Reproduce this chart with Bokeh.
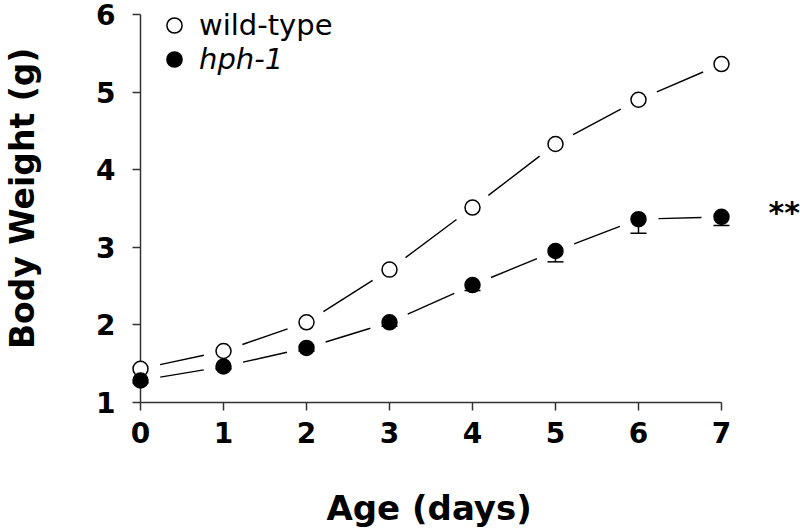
import math
from bokeh.plotting import figure
from bokeh.models import (Range1d, Whisker, TeeHead, Legend, LegendItem, Label,
                          ColumnDataSource, FixedTicker)
from bokeh.embed import file_html
from bokeh.resources import INLINE

# ---- data ----
days = [0, 1, 2, 3, 4, 5, 6, 7]
wild_type = [1.43, 1.66, 2.03, 2.71, 3.51, 4.33, 4.90, 5.36]
hph1 = [1.28, 1.46, 1.70, 2.03, 2.51, 2.95, 3.36, 3.39]
hph1_err = [0.03, 0.03, 0.04, 0.05, 0.07, 0.14, 0.18, 0.11]
x_ticks = [0, 1, 2, 3, 4, 5, 6, 7]
y_ticks = [1, 2, 3, 4, 5, 6]
series_labels = ["wild-type", "hph-1"]
x_title = "Age  (days)"
y_title = "Body Weight (g)"
significance = "**"

FONT = "DejaVu Sans"
W, H = 800, 532
X0, X1 = -1.687, 7.952
Y0, Y1 = -0.680, 6.180

p = figure(width=W, height=H, output_backend="svg", toolbar_location=None,
           x_range=Range1d(X0, X1), y_range=Range1d(Y0, Y1),
           min_border_left=0, min_border_right=0, min_border_top=0,
           min_border_bottom=0)
p.outline_line_color = None
p.grid.visible = False
p.background_fill_color = "white"
p.border_fill_color = "white"


def style_axis(ax, ticks, bounds, standoff):
    ax.ticker = FixedTicker(ticks=ticks)
    ax.bounds = bounds
    ax.minor_tick_line_color = None
    ax.major_tick_in = 0
    ax.major_tick_out = 8
    ax.axis_line_width = 1.5
    ax.major_tick_line_width = 1.5
    ax.axis_line_color = "#333333"
    ax.major_tick_line_color = "#333333"
    ax.major_label_text_font = FONT
    ax.major_label_text_font_style = "bold"
    ax.major_label_text_font_size = "28px"
    ax.major_label_text_color = "black"
    ax.major_label_standoff = standoff


xa = p.xaxis[0]
ya = p.yaxis[0]
style_axis(xa, x_ticks, (0, 7), 12)
xa.fixed_location = y_ticks[0]
style_axis(ya, y_ticks, (1, 6), 17)
ya.fixed_location = x_ticks[0]

# connecting lines with a gap of GAP screen px around each symbol centre
GAP = 20.0
kx = W / (X1 - X0)
ky = H / (Y1 - Y0)


def gapped(xs, ys):
    out = dict(x0=[], y0=[], x1=[], y1=[])
    for i in range(len(xs) - 1):
        dx, dy = xs[i + 1] - xs[i], ys[i + 1] - ys[i]
        f = GAP / math.hypot(dx * kx, dy * ky)
        out["x0"].append(xs[i] + dx * f)
        out["y0"].append(ys[i] + dy * f)
        out["x1"].append(xs[i + 1] - dx * f)
        out["y1"].append(ys[i + 1] - dy * f)
    return ColumnDataSource(out)


for series in (wild_type, hph1):
    p.segment("x0", "y0", "x1", "y1", source=gapped(days, series),
              line_color="black", line_width=1.4)

src = ColumnDataSource(dict(days=days, wt=wild_type, hph=hph1,
                            lower=[v - e for v, e in zip(hph1, hph1_err)]))

# error bars (lower side only)
wh = Whisker(source=src, base="days", lower="lower", upper="hph", dimension="height",
             line_color="black", line_width=1.5, upper_head=None,
             lower_head=TeeHead(size=16, line_color="black", line_width=1.5),
             level="glyph")
p.add_layout(wh)

wt_r = p.scatter("days", "wt", source=src, size=15, fill_color="white",
                 line_color="black", line_width=1.5, level="overlay")
hph_r = p.scatter("days", "hph", source=src, size=15, fill_color="black",
                  line_color="black", line_width=1.5, level="overlay")

common = dict(glyph_width=38, glyph_height=38, label_standoff=6, padding=0, margin=0,
              border_line_color=None, background_fill_alpha=0,
              label_text_font=FONT, label_text_font_size="29px",
              label_text_color="black")
leg1 = Legend(items=[LegendItem(label=series_labels[0], renderers=[wt_r])],
              location=(155, 488), **common)
leg2 = Legend(items=[LegendItem(label=series_labels[1], renderers=[hph_r])],
              location=(155, 454), label_text_font_style="italic", **common)
p.add_layout(leg1)
p.add_layout(leg2)

# axis titles
xt = Label(x=(x_ticks[0] + x_ticks[-1]) / 2, y=y_ticks[0], x_offset=4, y_offset=-106,
           text=x_title, text_font=FONT, text_font_style="bold", text_font_size="34px",
           text_align="center", text_baseline="alphabetic", text_color="black")
yt = Label(x=x_ticks[0], y=(y_ticks[0] + y_ticks[-1]) / 2, x_offset=-118, y_offset=10,
           angle=math.pi / 2, text=y_title,
           text_font=FONT, text_font_style="bold", text_font_size="33px",
           text_align="center", text_baseline="middle", text_color="black")
p.add_layout(xt)
p.add_layout(yt)

star = Label(x=days[-1], y=hph1[-1], x_offset=47, y_offset=4, text=significance,
             text_font=FONT, text_font_style="bold", text_font_size="30px",
             text_baseline="middle", text_color="black")
p.add_layout(star)

open("out.html", "w").write(file_html(p, INLINE))
